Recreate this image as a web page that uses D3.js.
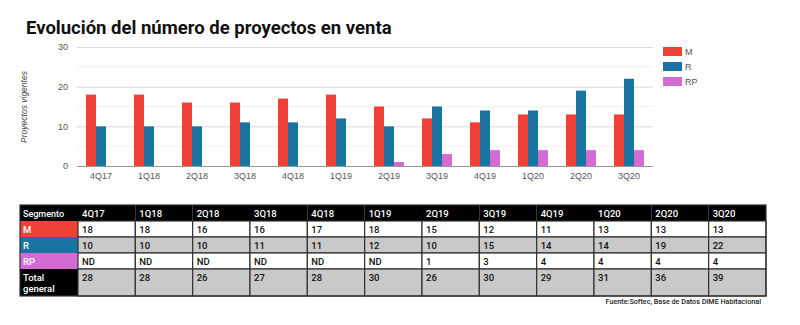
<!DOCTYPE html>
<html>
<head>
<meta charset="utf-8">
<script src="https://cdn.jsdelivr.net/npm/d3@7"></script>
<style>
  body { margin: 0; background: #fff; }
  svg { display: block; }
</style>
</head>
<body>
<div class="canvas"></div>
<script>
// Quarters shown on the x axis and as table columns
const quarters = ['4Q17','1Q18','2Q18','3Q18','4Q18','1Q19','2Q19','3Q19','4Q19','1Q20','2Q20','3Q20'];

// Series values (null = ND)
const valuesM  = [18, 18, 16, 16, 17, 18, 15, 12, 11, 13, 13, 13];
const valuesR  = [10, 10, 10, 11, 11, 12, 10, 15, 14, 14, 19, 22];
const valuesRP = [null, null, null, null, null, null, 1, 3, 4, 4, 4, 4];
const totals   = [28, 28, 26, 27, 28, 30, 26, 30, 29, 31, 36, 39];

const seriesNames = ['M', 'R', 'RP'];
const yTicks = [0, 10, 20, 30];

const colors = {M: '#ef4136', R: '#1a74a3', RP: '#d36bd3'};

// Sizes
const svgWidth = 800;
const svgHeight = 325;
const plot = {left: 77, right: 653, top: 47, bottom: 166};

let svg = d3.select('.canvas').append('svg')
  .attr('width', svgWidth)
  .attr('height', svgHeight);

// Title
svg.append('text')
  .attr('x', 26).attr('y', 34)
  .attr('font-family', 'Roboto, sans-serif')
  .attr('font-weight', 700)
  .attr('font-size', 18.5)
  .attr('fill', '#111')
  .text('Evolución del número de proyectos en venta');

// Scales
const xScale = d3.scaleBand().domain(quarters)
  .range([plot.left, plot.right])
  .paddingInner(0.375).paddingOuter(0.1875);

const xSeries = d3.scaleBand().domain(seriesNames)
  .range([0, xScale.bandwidth()]);

const yScale = d3.scaleLinear().domain([0, 30])
  .range([plot.bottom, plot.top]);

// Minor gridlines
svg.append('g').selectAll('line')
  .data([5, 15, 25])
  .enter().append('line')
  .attr('x1', plot.left).attr('x2', plot.right)
  .attr('y1', d => yScale(d)).attr('y2', d => yScale(d))
  .attr('stroke', '#f2f2f2');

// Major gridlines via axis
const yAxis = d3.axisLeft(yScale).tickValues(yTicks)
  .tickSize(-(plot.right - plot.left)).tickPadding(9);

const yg = svg.append('g')
  .attr('transform', 'translate(' + plot.left + ',0)')
  .call(yAxis);
yg.select('.domain').remove();
yg.selectAll('line').attr('stroke', d => d === 0 ? '#999' : '#d9d9d9');
yg.selectAll('text')
  .attr('font-family', 'Liberation Sans, Arial, sans-serif')
  .attr('font-size', 9)
  .attr('fill', '#555');

// Y axis title
svg.append('text')
  .attr('transform', 'translate(27,107)rotate(-90)')
  .attr('text-anchor', 'middle')
  .attr('font-family', 'Liberation Sans, Arial, sans-serif')
  .attr('font-style', 'italic')
  .attr('font-size', 8.5)
  .attr('fill', '#444')
  .text('Proyectos vigentes');

// Bars
const barData = quarters.map((q, i) => ({
  q: q,
  vals: [
    {s: 'M', v: valuesM[i]},
    {s: 'R', v: valuesR[i]},
    {s: 'RP', v: valuesRP[i]}
  ]
}));

const groups = svg.append('g').selectAll('g')
  .data(barData)
  .enter().append('g')
  .attr('transform', d => 'translate(' + xScale(d.q) + ',0)');

groups.selectAll('rect')
  .data(d => d.vals.filter(e => e.v !== null))
  .enter().append('rect')
  .attr('x', d => xSeries(d.s))
  .attr('width', xSeries.bandwidth())
  .attr('y', d => yScale(d.v))
  .attr('height', d => yScale(0) - yScale(d.v))
  .attr('fill', d => colors[d.s]);

// X axis
const xg = svg.append('g')
  .attr('transform', 'translate(0,' + plot.bottom + ')')
  .call(d3.axisBottom(xScale).tickSize(0).tickPadding(7));
xg.select('.domain').remove();
xg.selectAll('text')
  .attr('font-family', 'Liberation Sans, Arial, sans-serif')
  .attr('font-size', 9)
  .attr('fill', '#555');

// Legend
const legend = svg.append('g').selectAll('g')
  .data(seriesNames)
  .enter().append('g')
  .attr('transform', (d, i) => 'translate(663,' + (47 + i * 15) + ')');
legend.append('rect')
  .attr('width', 19).attr('height', 9)
  .attr('fill', d => colors[d]);
legend.append('text')
  .attr('x', 22).attr('y', 8)
  .attr('font-family', 'Liberation Sans, Arial, sans-serif')
  .attr('font-size', 9)
  .attr('fill', '#555')
  .text(d => d);

// Table
const table = {left: 20, firstCol: 58, top: 205};
const colX = d3.scaleBand().domain(quarters)
  .range([table.left + table.firstCol, 766]);

const rows = [
  {label: ['Segmento'], vals: quarters, head: '#000', bg: '#000', fg: '#fff', h: 16},
  {label: ['M'], vals: valuesM, head: colors.M, bg: '#fff', fg: '#111', h: 16},
  {label: ['R'], vals: valuesR, head: colors.R, bg: '#c9c9c9', fg: '#111', h: 16},
  {label: ['RP'], vals: valuesRP.map(v => v === null ? 'ND' : v), head: colors.RP, bg: '#fff', fg: '#111', h: 16},
  {label: ['Total', 'general'], vals: totals, head: '#000', bg: '#c9c9c9', fg: '#111', h: 27}
];
let yy = table.top;
rows.forEach(r => { r.y = yy; yy += r.h; });

const tg = svg.append('g')
  .attr('font-family', 'Roboto, Liberation Sans, sans-serif')
  .attr('font-size', 9.5)
  .attr('font-weight', 500);

const rowG = tg.selectAll('g.row')
  .data(rows)
  .enter().append('g')
  .attr('class', 'row')
  .attr('transform', d => 'translate(0,' + d.y + ')');

rowG.append('rect')
  .attr('x', table.left).attr('width', table.firstCol)
  .attr('height', d => d.h)
  .attr('fill', d => d.head);

rowG.append('text')
  .attr('x', table.left + 3)
  .attr('y', 11.5)
  .attr('fill', '#fff')
  .attr('font-size', d => d.label[0] === 'Segmento' ? 9 : 9.5)
  .selectAll('tspan')
  .data(d => d.label)
  .enter().append('tspan')
  .attr('x', table.left + 3)
  .attr('dy', (d, i) => i === 0 ? 0 : 11)
  .text(d => d);

rowG.selectAll('rect.cell')
  .data(d => quarters.map((q, i) => ({q: q, v: d.vals[i], r: d})))
  .enter().append('rect')
  .attr('class', 'cell')
  .attr('x', d => colX(d.q))
  .attr('width', colX.bandwidth())
  .attr('height', d => d.r.h)
  .attr('fill', d => d.r.bg)
  .attr('stroke', d => d.r.bg === '#000' ? 'none' : '#333')
  .attr('stroke-width', 1.2);

rowG.selectAll('text.cell')
  .data(d => quarters.map((q, i) => ({q: q, v: d.vals[i], r: d})))
  .enter().append('text')
  .attr('class', 'cell')
  .attr('x', d => colX(d.q) + 4)
  .attr('y', 11.5)
  .attr('fill', d => d.r.bg === '#000' ? '#fff' : '#111')
  .text(d => d.v);

// Outer table border
svg.append('rect')
  .attr('x', table.left).attr('y', table.top)
  .attr('width', 766 - table.left).attr('height', yy - table.top)
  .attr('fill', 'none').attr('stroke', '#333').attr('stroke-width', 1.2);

// Source note
svg.append('text')
  .attr('x', 761).attr('y', 304)
  .attr('text-anchor', 'end')
  .attr('font-family', 'Roboto, Liberation Sans, sans-serif')
  .attr('font-size', 7.2)
  .attr('font-weight', 500)
  .attr('fill', '#222')
  .text('Fuente:Softec, Base de Datos DIME Habitacional');
</script>
</body>
</html>
